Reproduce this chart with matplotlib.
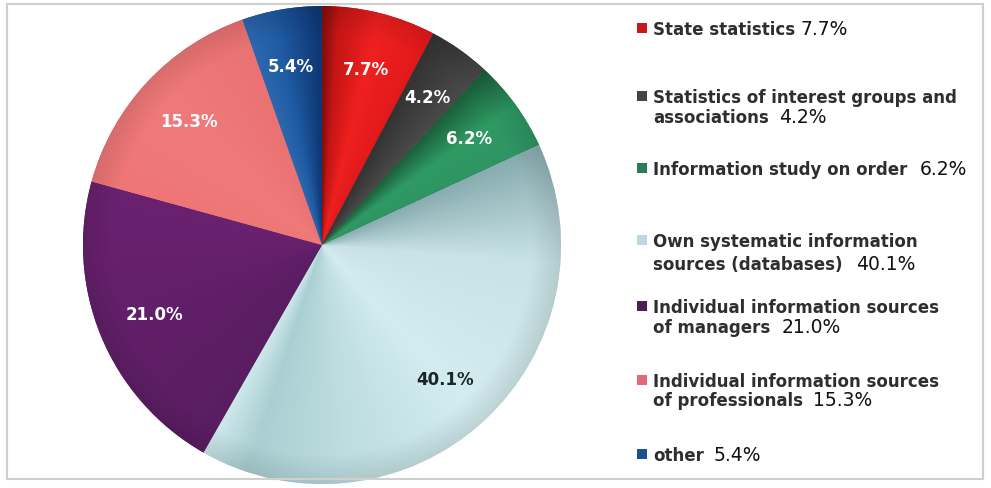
import numpy as np
import matplotlib
matplotlib.use("Agg")
import matplotlib.pyplot as plt
from matplotlib.patches import Rectangle
from matplotlib.colors import to_rgb

# ---------------- data ----------------
categories = [
    "State statistics",
    "Statistics of interest groups and\nassociations",
    "Information study on order",
    "Own systematic information\nsources (databases)",
    "Individual information sources\nof managers",
    "Individual information sources\nof professionals",
    "other",
]
values = [7.7, 4.2, 6.2, 40.1, 21.0, 15.3, 5.4]
pct_labels = [f"{v:.1f}%" for v in values]

# ---------------- styles ----------------
base_colors = ["#c8181b", "#444444", "#2a7d55", "#b9d9dc", "#4f1a57", "#e06b78", "#1e4f8f"]
# gradient stops along each wedge (t=0 clockwise end, t=1 counter-clockwise edge)
grad_stops = [
    [(0, "#e2191b"), (0.5, "#ef2020"), (0.85, "#c41515"), (1, "#7e0c0c")],
    [(0, "#4a4a4a"), (1, "#333333")],
    [(0, "#2f9464"), (0.5, "#2e9a63"), (1, "#1b5e3a")],
    [(0, "#cde8eb"), (0.08, "#aacfd2"), (0.25, "#bddde0"), (0.5, "#d3ecef"),
     (0.8, "#c8e2e5"), (1, "#88acb0")],
    [(0, "#6a2170"), (1, "#5a1d62")],
    [(0, "#ea7272"), (0.5, "#f07a7a"), (1, "#ee7676")],
    [(0, "#0d3570"), (0.6, "#1f5ba3"), (1, "#2d68ae")],
]
label_colors = ["white"] * 7
label_colors[3] = "#1a2626"

W, H = 991, 489
fig = plt.figure(figsize=(W / 100, H / 100), dpi=100)
fig.patch.set_facecolor("white")

cx, cy, R = 322, 246, 239
ax = fig.add_axes([(cx - R) / W, (H - cy - R) / H, 2 * R / W, 2 * R / H])

wedges, texts = ax.pie(values, colors=base_colors, startangle=90, counterclock=False,
                       radius=1, wedgeprops=dict(linewidth=0))
ax.set_xlim(-1, 1)
ax.set_ylim(-1, 1)
ax.set_aspect("equal")
ax.axis("off")

# gradient fills clipped to wedges
N = 700
xs = np.linspace(-1, 1, N)
X, Y = np.meshgrid(xs, xs)
ANG = np.degrees(np.arctan2(Y, X))
RAD = np.hypot(X, Y)
for w, stops in zip(wedges, grad_stops):
    span = w.theta2 - w.theta1
    rel = np.mod(ANG - w.theta1, 360.0)
    t = np.clip(rel / span, 0, 1)
    ts = [s[0] for s in stops]
    cols = np.array([to_rgb(s[1]) for s in stops])
    img = np.zeros((N, N, 3))
    for c in range(3):
        img[..., c] = np.interp(t, ts, cols[:, c])
    # slight darkening near rim
    f = np.clip((RAD - 0.88) / 0.12, 0, 1) * 0.1
    img = img * (1 - f[..., None])
    im = ax.imshow(img, extent=(-1, 1, -1, 1), origin="lower", zorder=2,
                   interpolation="bilinear")
    im.set_clip_path(w)

# percentage labels inside wedges
for w, lab, col in zip(wedges, pct_labels, label_colors):
    mid = np.radians(0.5 * (w.theta1 + w.theta2))
    d = 0.76
    ax.text(d * np.cos(mid), d * np.sin(mid), lab, ha="center", va="center",
            fontsize=12, fontweight="bold", color=col, family="DejaVu Sans", zorder=5)

# ---------------- legend ----------------
baselines = [[35], [103, 123], [175], [247, 270], [313, 333], [387, 406], [461]]
gaps = [5, 10, 12, 14, 11, 10, 10]
text_x = 653
mk_x, mk_size = 637, 10

fig.canvas.draw()
renderer = fig.canvas.get_renderer()
for cat, col, pct, bls, gap in zip(categories, base_colors, pct_labels, baselines, gaps):
    lines = cat.split("\n")
    last = None
    for line, bl in zip(lines, bls):
        last = fig.text(text_x / W, 1 - bl / H, line, ha="left", va="baseline",
                        fontsize=12, fontweight="bold", color="#2e2e2e",
                        family="DejaVu Sans")
    bb = last.get_window_extent(renderer)
    fig.text((bb.x1 + gap) / W, 1 - bls[-1] / H, pct, ha="left", va="baseline",
             fontsize=13.5, color="#111111", family="DejaVu Sans")
    top = bls[0] - 11
    fig.add_artist(Rectangle((mk_x / W, 1 - (top + mk_size) / H), mk_size / W, mk_size / H,
                             transform=fig.transFigure, facecolor=col, edgecolor="none"))

# outer frame
fig.add_artist(Rectangle((7 / W, 1 - 480 / H), 976 / W, 475 / H, transform=fig.transFigure,
                         facecolor="none", edgecolor="#cfcfcf", linewidth=1.5, zorder=10))

fig.savefig("out.png", dpi=100)
